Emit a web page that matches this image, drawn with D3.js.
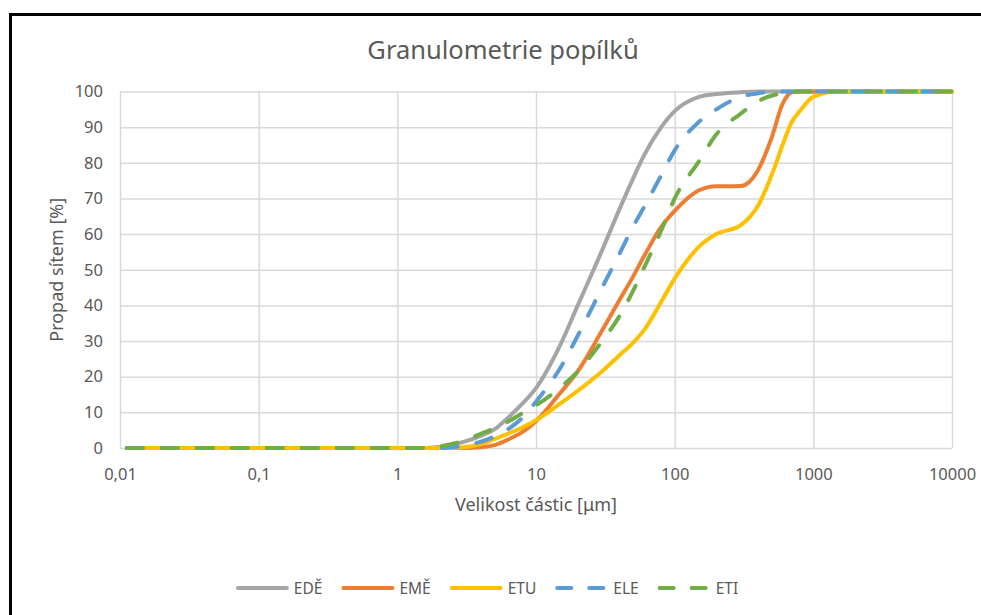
<!DOCTYPE html>
<html>
<head>
<meta charset="utf-8">
<script src="https://cdn.jsdelivr.net/npm/d3@7/dist/d3.min.js"></script>
<style>
  html, body { margin: 0; padding: 0; background: #fff; }
  svg { display: block; }
  text { font-family: "Noto Sans", "Open Sans", sans-serif; fill: #595959; }
</style>
</head>
<body>
<svg id="chart" width="981" height="615"></svg>
<script>
// Particle sizes [µm] of the sieve / diffraction classes
const sizes = [0.0112, 0.02, 0.05, 0.1, 0.2, 0.5, 1, 1.5, 2, 2.5, 3, 4, 5, 6, 8, 10, 15, 20, 30, 40,
               50, 60, 80, 100, 150, 200, 300, 400, 500, 600, 700, 800, 1000, 1500, 2000, 5000, 10000];

// Cumulative passing [%] for each ash sample
const edeValues = [0, 0, 0, 0, 0, 0, 0, 0, 0.3, 0.9, 1.7, 3.4, 5.2, 7.8, 12.5, 16.8, 29, 40, 55.5, 67,
                   75.5, 82, 90, 94.5, 98.5, 99.3, 99.8, 100, 100, 100, 100, 100, 100, 100, 100, 100, 100];
const emeValues = [0, 0, 0, 0, 0, 0, 0, 0, 0, 0, 0, 0.2, 0.8, 2, 4.5, 7.5, 15.5, 21.5, 33, 41.5,
                   48, 53.7, 62, 66.5, 72.3, 73.4, 73.5, 78, 87, 96.5, 99.8, 100, 100, 100, 100, 100, 100];
const etuValues = [0, 0, 0, 0, 0, 0, 0, 0, 0, 0, 0.2, 1.1, 2.5, 3.7, 5.8, 7.8, 12.5, 16, 21.5, 26,
                   29.5, 33, 41, 47.5, 56.5, 60, 62.5, 68, 76.5, 85, 91.5, 94.5, 98.5, 100, 100, 100, 100];
const eleValues = [0, 0, 0, 0, 0, 0, 0, 0, 0, 0.2, 0.6, 1.8, 3.2, 4.8, 8.5, 13, 22.5, 31.5, 45, 54.5,
                   62, 67.5, 76.5, 83.5, 91.5, 95, 98.5, 99.5, 99.9, 100, 100, 100, 100, 100, 100, 100, 100];
const etiValues = [0, 0, 0, 0, 0, 0, 0, 0, 0.4, 1.2, 2, 4, 5.5, 7, 9.8, 12, 17, 21.5, 30, 37,
                   44, 50.5, 61, 70, 80.5, 88, 93.8, 97.3, 98.8, 99.5, 99.9, 100, 100, 100, 100, 100, 100];

const seriesNames = ["EDĚ", "EMĚ", "ETU", "ELE", "ETI"];
const seriesColors = ["#A5A5A5", "#ED7D31", "#FFC000", "#5B9BD5", "#70AD47"];
const seriesDashed = [false, false, false, true, true];
const seriesValues = [edeValues, emeValues, etuValues, eleValues, etiValues];

const xTickValues = [0.01, 0.1, 1, 10, 100, 1000, 10000];
const xTickLabels = ["0,01", "0,1", "1", "10", "100", "1000", "10000"];
const yTickValues = [0, 10, 20, 30, 40, 50, 60, 70, 80, 90, 100];

const chartTitle = "Granulometrie popílků";
const xTitle = "Velikost částic [μm]";
const yTitle = "Propad sítem [%]";

// Plot geometry
const plot = { left: 120, right: 952, top: 91.5, bottom: 448 };

const svg = d3.select("#chart");

svg.append("rect").attr("width", 981).attr("height", 615).attr("fill", "#fff");
// chart area frame
svg.append("rect")
  .attr("x", 10.5).attr("y", 14.5).attr("width", 1000).attr("height", 700)
  .attr("fill", "none").attr("stroke", "#000").attr("stroke-width", 3);

const x = d3.scaleLog().domain([0.01, 10000]).range([plot.left, plot.right]);
const y = d3.scaleLinear().domain([0, 100]).range([plot.bottom, plot.top]);

// Gridlines
const gridColor = "#D9D9D9";
const yGrid = svg.append("g")
  .attr("transform", `translate(${plot.left},0)`)
  .call(d3.axisLeft(y).tickValues(yTickValues).tickSize(-(plot.right - plot.left)).tickFormat(""));
const xGrid = svg.append("g")
  .attr("transform", `translate(0,${plot.bottom})`)
  .call(d3.axisBottom(x).tickValues(xTickValues).tickSize(-(plot.bottom - plot.top)).tickFormat(""));
[yGrid, xGrid].forEach(g => {
  g.select(".domain").remove();
  g.selectAll(".tick line").attr("stroke", gridColor).attr("stroke-width", 1.5);
});

// Tick labels
const yAxis = svg.append("g")
  .attr("transform", `translate(${plot.left},0)`)
  .call(d3.axisLeft(y).tickValues(yTickValues).tickSize(0).tickPadding(17));
const xAxis = svg.append("g")
  .attr("transform", `translate(0,${plot.bottom})`)
  .call(d3.axisBottom(x).tickValues(xTickValues).tickSize(0).tickPadding(20)
    .tickFormat((d, i) => xTickLabels[i]));
[yAxis, xAxis].forEach(g => {
  g.select(".domain").remove();
  g.selectAll("text").style("font-family", '"Noto Sans", sans-serif')
    .style("font-size", "16.5px").attr("fill", "#595959");
});

// Series
const line = d3.line()
  .x(d => x(d[0]))
  .y(d => y(d[1]))
  .curve(d3.curveMonotoneX);

seriesValues.forEach((vals, i) => {
  const pts = sizes.map((s, j) => [s, vals[j]]);
  svg.append("path")
    .datum(pts)
    .attr("d", line)
    .attr("fill", "none")
    .attr("stroke", seriesColors[i])
    .attr("stroke-width", 4)
    .attr("stroke-linecap", "round")
    .attr("stroke-linejoin", "round")
    .attr("stroke-dasharray", seriesDashed[i] ? "16,19" : null);
});

// Titles
svg.append("text")
  .attr("x", 503).attr("y", 59)
  .attr("text-anchor", "middle")
  .style("font-size", "25.5px")
  .text(chartTitle);

svg.append("text")
  .attr("x", (plot.left + plot.right) / 2).attr("y", 511)
  .attr("text-anchor", "middle")
  .style("font-size", "18px")
  .text(xTitle);

svg.append("text")
  .attr("transform", `translate(63,${(plot.top + plot.bottom) / 2}) rotate(-90)`)
  .attr("text-anchor", "middle")
  .style("font-size", "18px")
  .text(yTitle);

// Legend
const legend = svg.append("g");
const legendY = 588;
const swatch = 53, swatchGap = 5, itemGap = 19;
const items = seriesNames.map((name, i) => {
  const g = legend.append("g");
  g.append("line")
    .attr("x1", 2).attr("x2", swatch - 2)
    .attr("y1", legendY).attr("y2", legendY)
    .attr("stroke", seriesColors[i])
    .attr("stroke-width", 4)
    .attr("stroke-linecap", "round")
    .attr("stroke-dasharray", seriesDashed[i] ? "14,18" : null);
  const t = g.append("text")
    .attr("x", swatch + swatchGap).attr("y", legendY + 6)
    .style("font-size", "15.5px")
    .text(name);
  return { g, w: swatch + swatchGap + t.node().getComputedTextLength() };
});
const totalW = d3.sum(items, d => d.w) + itemGap * (items.length - 1);
let cx = 487 - totalW / 2;
items.forEach(it => {
  it.g.attr("transform", `translate(${cx},0)`);
  cx += it.w + itemGap;
});
</script>
</body>
</html>
